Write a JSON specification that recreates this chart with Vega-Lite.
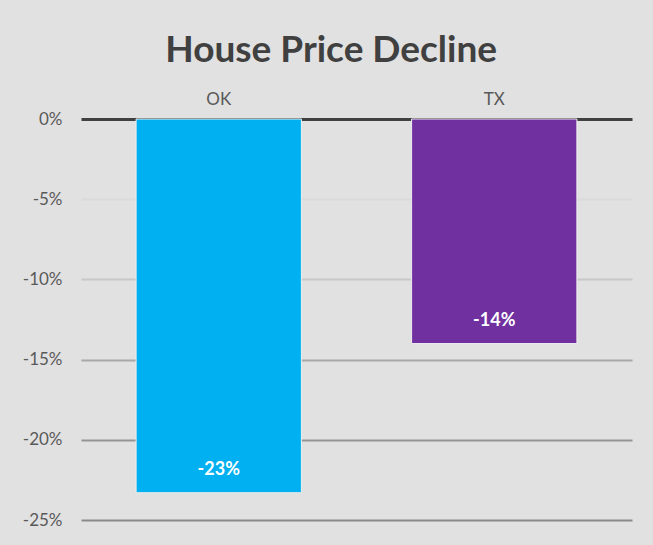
{
  "$schema": "https://vega.github.io/schema/vega-lite/v6.json",
  "width": 551,
  "height": 401,
  "autosize": {"type": "none"},
  "padding": {"left": 81, "top": 119, "right": 21, "bottom": 25},
  "background": "#e1e1e1",
  "title": {
    "text": "House Price Decline",
    "font": "Lato",
    "fontSize": 37,
    "fontWeight": "bold",
    "color": "#404040",
    "anchor": "middle",
    "frame": "bounds",
    "dx": 4,
    "offset": 20
  },
  "data": {
    "values": [
      {"state": "OK", "change": -0.233},
      {"state": "TX", "change": -0.14}
    ]
  },
  "encoding": {
    "x": {
      "field": "state",
      "type": "nominal",
      "sort": null,
      "scale": {"paddingInner": 0.4, "paddingOuter": 0.2},
      "axis": {
        "orient": "top",
        "title": null,
        "ticks": false,
        "labelAngle": 0,
        "labelFont": "Lato",
        "labelFontSize": 17,
        "labelColor": "#595959",
        "labelPadding": 11,
        "domain": true,
        "domainColor": "#404040",
        "domainWidth": 3,
        "domainCap": "butt"
      }
    },
    "y": {
      "field": "change",
      "type": "quantitative",
      "scale": {"domain": [-0.25, 0], "nice": false},
      "axis": {
        "title": null,
        "values": [0, -0.05, -0.1, -0.15, -0.2, -0.25],
        "format": ".0%",
        "ticks": false,
        "domain": false,
        "labelFont": "Lato",
        "labelFontSize": 17,
        "labelColor": "#595959",
        "labelPadding": 19,
        "gridWidth": 2,
        "gridColor": {
          "condition": [
            {"test": "datum.value > -0.07", "value": "#dadada"},
            {"test": "datum.value > -0.12", "value": "#c8c8c8"},
            {"test": "datum.value > -0.17", "value": "#a8a8a8"},
            {"test": "datum.value > -0.22", "value": "#959595"}
          ],
          "value": "#8a8a8a"
        }
      }
    }
  },
  "layer": [
    {
      "mark": {"type": "bar", "stroke": "#eeeeee", "strokeWidth": 1},
      "encoding": {
        "color": {
          "field": "state",
          "type": "nominal",
          "scale": {"domain": ["OK", "TX"], "range": ["#00B0F0", "#7030A0"]},
          "legend": null
        }
      }
    },
    {
      "mark": {
        "type": "text",
        "baseline": "bottom",
        "dy": -14,
        "font": "Lato",
        "fontSize": 18,
        "fontWeight": "bold",
        "color": "white"
      },
      "encoding": {
        "text": {"field": "change", "type": "quantitative", "format": ".0%"}
      }
    }
  ],
  "config": {
    "view": {"stroke": null},
    "locale": {
      "number": {
        "decimal": ".",
        "thousands": ",",
        "grouping": [3],
        "currency": ["$", ""],
        "minus": "-"
      }
    }
  }
}
